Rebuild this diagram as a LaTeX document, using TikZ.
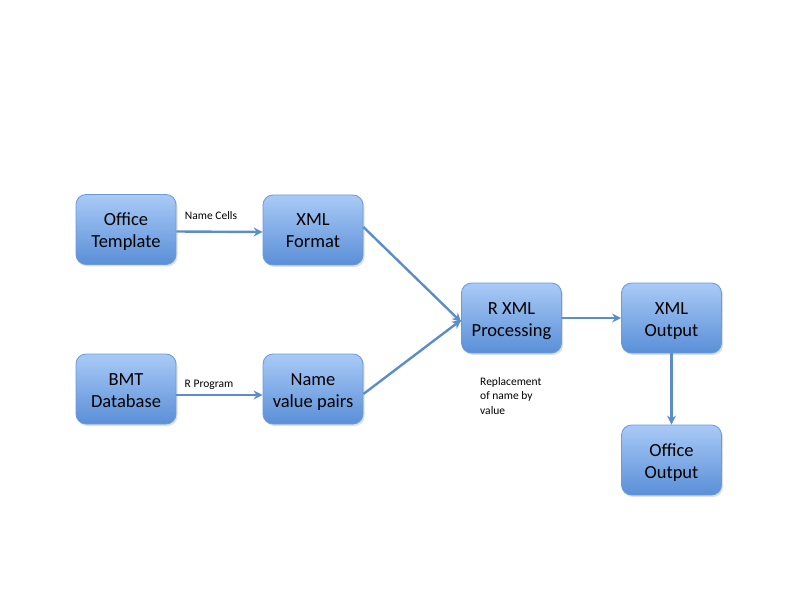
\documentclass[tikz,border=0pt]{standalone}
\usepackage{fontspec}
\setmainfont{Carlito}
\usetikzlibrary{arrows.meta,shadows}
\definecolor{boxtop}{HTML}{A9CAF6}
\definecolor{boxbot}{HTML}{5A8FD8}
\definecolor{boxline}{HTML}{6A9BD6}
\definecolor{arrowc}{HTML}{5B8DCB}
\tikzset{
  procbox/.style={draw=boxline, line width=0.8pt, rounded corners=10pt,
    top color=boxtop, bottom color=boxbot, minimum width=100pt, minimum height=70pt,
    align=center, font=\fontsize{18.5}{22}\selectfont, inner sep=0pt,
    text height=36pt, text depth=0pt,
    drop shadow={opacity=0.25, shadow xshift=1.5pt, shadow yshift=-2pt}},
  flow/.style={draw=arrowc, line width=2.4pt, -{Stealth[length=9pt,width=9pt,inset=3pt]}},
  lbl/.style={font=\fontsize{11.5}{14.5}\selectfont, inner sep=0pt}
}
\begin{document}
\begin{tikzpicture}[x=1pt,y=-1pt]
\useasboundingbox (0,0) rectangle (792,612);
\node[procbox] (ot) at (126,229.5) {Office\\Template};
\node[procbox] (xf) at (313,230) {XML\\Format};
\node[procbox] (bmt) at (126,389) {BMT\\Database};
\node[procbox] (nv) at (313,389) {Name\\value pairs};
\node[procbox] (rx) at (511.5,318) {R XML\\Processing};
\node[procbox] (xo) at (671.5,318) {XML\\Output};
\node[procbox] (oo) at (671.5,460) {Office\\Output};
\draw[flow] ([yshift=-2pt]ot.east) -- ([yshift=-2pt]xf.west);
\draw[flow] ([yshift=-6pt]bmt.east) -- ([yshift=-6pt]nv.west);
\draw[flow] ([yshift=3pt]xf.east) -- ([yshift=-4pt]rx.west);
\draw[flow] ([yshift=-5pt]nv.east) -- ([yshift=-2pt]rx.west);
\draw[flow] (rx.east) -- (xo.west);
\draw[flow] (xo.south) -- (oo.north);
\node[lbl] (l1) at (211,216) {Name Cells};
\node[lbl] (l2) at (209,385) {R Program};
\node[lbl, align=left, anchor=north west] (l3) at (480,377) {Replacement\\of name by\\value};
\end{tikzpicture}
\end{document}
